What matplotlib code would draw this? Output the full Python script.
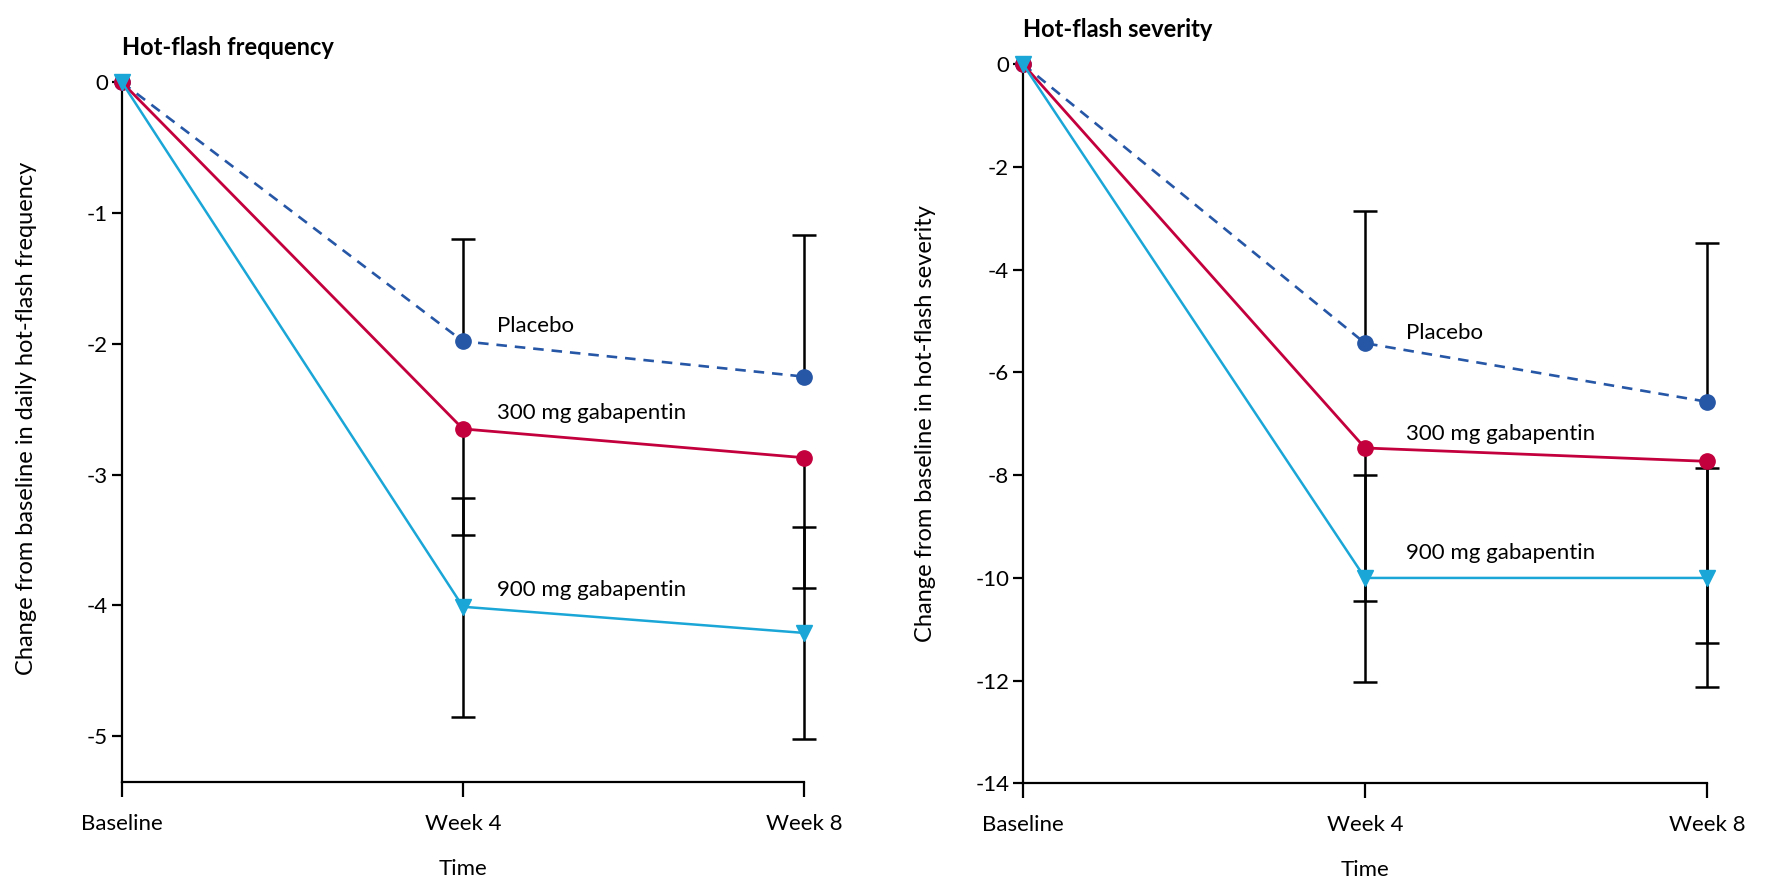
import numpy as np
import matplotlib
matplotlib.use("Agg")
import matplotlib.pyplot as plt

plt.rcParams["font.family"] = ["Lato", "DejaVu Sans"]

# time points
weeks = [0, 1, 2]
week_labels = ["Baseline", "Week 4", "Week 8"]

# hot-flash frequency: mean change and error-bar ends
freq_placebo = [0, -1.98, -2.25]
freq_300 = [0, -2.65, -2.87]
freq_900 = [0, -4.01, -4.21]
freq_placebo_hi = [np.nan, -1.20, -1.17]
freq_300_lo = [np.nan, -3.46, -3.87]
freq_900_hi = [np.nan, -3.18, -3.40]
freq_900_lo = [np.nan, -4.85, -5.02]

# hot-flash severity: mean change and error-bar ends
sev_placebo = [0, -5.43, -6.57]
sev_300 = [0, -7.47, -7.73]
sev_900 = [0, -10.0, -10.0]
sev_placebo_hi = [np.nan, -2.86, -3.47]
sev_300_lo = [np.nan, -10.45, -11.26]
sev_900_hi = [np.nan, -8.0, -7.85]
sev_900_lo = [np.nan, -12.03, -12.12]

c_placebo = "#2656a6"
c_300 = "#c3003d"
c_900 = "#1aa6d6"


def err_bar(ax, mean, bound):
    mean = np.array(mean, dtype=float)
    bound = np.array(bound, dtype=float)
    ok = ~np.isnan(bound)
    x = np.array(weeks)[ok]
    ax.vlines(x, mean[ok], bound[ok], color="black", lw=1.8, zorder=2,
              clip_on=False)
    ax.plot(x, bound[ok], ls="none", marker="_", ms=17, mew=1.8,
            color="black", zorder=2, clip_on=False)


def panel(ax, placebo, d300, d900, bars, ymin, yticks, title, ylabel,
          ylabel_xy, labels):
    for mean, bound in bars:
        err_bar(ax, mean, bound)
    ax.plot(weeks, placebo, color=c_placebo, ls=(0, (4, 3)), lw=1.9,
            marker="o", ms=11, zorder=3, clip_on=False)
    ax.plot(weeks, d300, color=c_300, lw=2, marker="o", ms=11,
            zorder=4, clip_on=False)
    ax.plot(weeks, d900, color=c_900, lw=1.8, marker="v", ms=12,
            zorder=5, clip_on=False)

    ax.set_xlim(0, 2)
    ax.set_ylim(ymin, 0)
    ax.set_xticks(weeks)
    ax.set_xticklabels(week_labels)
    ax.set_yticks(yticks)
    ax.set_yticklabels([str(t) for t in yticks])
    for s in ["top", "right"]:
        ax.spines[s].set_visible(False)
    for s in ["left", "bottom"]:
        ax.spines[s].set_linewidth(1.6)
    ax.tick_params(axis="y", length=7, width=1.6, labelsize=16, pad=3)
    ax.tick_params(axis="x", length=11, width=1.6, labelsize=16, pad=12)
    ax.set_xlabel("Time", fontsize=16, labelpad=18)
    ax.set_ylabel(ylabel, fontsize=17)
    ax.yaxis.set_label_coords(*ylabel_xy)
    ax.set_title(title, fontsize=17, fontweight="bold", loc="left",
                 x=0, pad=20)
    for txt, (lx, ly) in labels.items():
        ax.text(lx, ly, txt, fontsize=16, va="center", ha="left")


fig = plt.figure(figsize=(17.7, 8.83), dpi=100)
ax1 = fig.add_axes([0.0689, 0.1144, 0.3853, 0.7923])
ax2 = fig.add_axes([0.578, 0.1128, 0.3864, 0.8144])

panel(ax1, freq_placebo, freq_300, freq_900,
      [(freq_placebo, freq_placebo_hi), (freq_300, freq_300_lo),
       (freq_900, freq_900_hi), (freq_900, freq_900_lo)],
      -5.35, [0, -1, -2, -3, -4, -5], "Hot-flash frequency",
      "Change from baseline in daily hot-flash frequency", (-0.125, 0.52),
      {"Placebo": (1.1, -1.86), "300 mg gabapentin": (1.1, -2.53),
       "900 mg gabapentin": (1.1, -3.88)})

panel(ax2, sev_placebo, sev_300, sev_900,
      [(sev_placebo, sev_placebo_hi), (sev_300, sev_300_lo),
       (sev_900, sev_900_hi), (sev_900, sev_900_lo)],
      -14, [0, -2, -4, -6, -8, -10, -12, -14], "Hot-flash severity",
      "Change from baseline in hot-flash severity", (-0.128, 0.5),
      {"Placebo": (1.12, -5.23), "300 mg gabapentin": (1.12, -7.2),
       "900 mg gabapentin": (1.12, -9.52)})

fig.savefig("out.png", dpi=100)
